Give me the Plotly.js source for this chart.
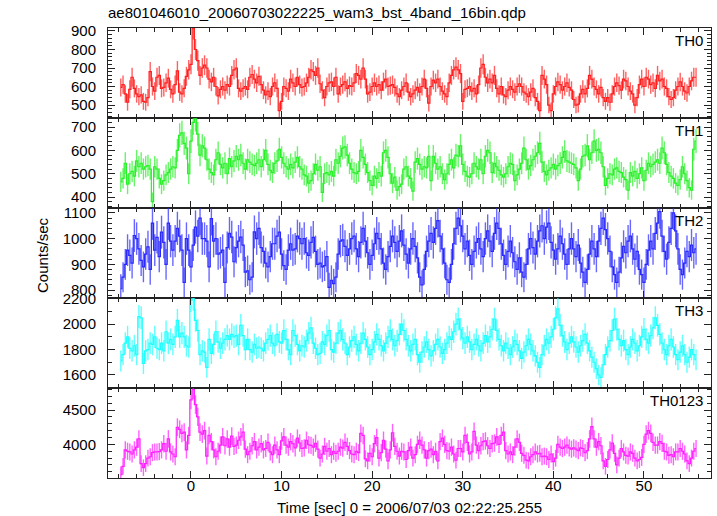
<!DOCTYPE html>
<html><head><meta charset="utf-8">
<script src="https://cdn.plot.ly/plotly-3.0.1.min.js"></script>
<style>html,body{margin:0;padding:0;background:#fff}#chart{width:717px;height:516px}</style>
</head><body><div id="chart"></div>
<script>
// time grid: bins of 0.25 s starting at -7.75 s
const T_START = -7.75;
const BIN = 0.25;
const panelNames = ["TH0", "TH1", "TH2", "TH3", "TH0123"];

const th0 = [
595,610,560,515, 585,650,590,560, 545,555,520,515, 540,680,600,575, 650,660,590,595, 620,645,585,560, 610,685,570,560, 590,655,690,
720,915,800,740, 660,700,715,700, 640,625,650,600, 550,585,600,580, 610,600,660,690, 700,590,575,590, 600,585,650,665, 640,620,655,610,
580,555,575,545, 600,620,590,470, 520,600,590,575, 640,620,600,650, 610,595,600,620, 650,690,680,660, 700,615,580,540, 600,620,625,600,
650,560,600,610, 625,590,605,600, 620,670,660,640, 700,640,560,570, 600,620,600,610, 580,625,640,600, 605,610,595,560, 545,580,600,620,
570,545,560,580, 595,570,600,640, 590,510,600,635, 620,640,600,575, 560,545,620,660, 690,705,690,670, 520,585,590,600, 575,590,560,610,
700,720,650,620, 640,620,660,590, 560,600,555,545, 580,600,585,570, 600,615,600,570, 560,545,570,590, 540,520,470,660, 640,610,500,470,
560,600,625,610, 580,600,620,595, 580,530,500,505, 560,585,560,590, 660,640,600,585, 560,595,540,520, 540,515,560,600, 620,605,580,640,
630,600,575,560, 500,540,610,640, 600,650,640,610, 620,590,660,630, 640,600,590,545, 530,540,580,600, 625,600,575,565, 600,630,650,650
];
const th1 = [
465,480,545,455, 500,510,490,555, 530,545,520,530, 535,520,380,530, 520,480,455,470, 495,505,520,530, 525,600,665,675, 630,610,500,
640,720,735,670, 580,620,610,560, 520,505,495,560, 590,540,525,545, 500,565,530,555, 575,560,580,545, 520,560,550,540, 535,545,560,530,
560,600,540,515, 505,545,555,605, 570,545,530,520, 540,525,550,570, 530,520,495,490, 460,470,500,540, 515,530,420,500, 505,495,510,490,
560,545,575,610, 615,580,545,520, 505,500,510,600, 570,540,505,470, 450,490,480,505, 490,590,600,570, 500,460,485,430, 445,455,520,530,
490,480,425,550, 565,540,520,530, 525,575,470,575, 545,520,530,500, 475,500,540,560, 525,580,575,620, 540,510,490,485, 500,545,530,520,
560,500,575,600, 590,505,545,530, 515,495,485,500, 530,545,540,470, 495,520,545,610, 560,520,535,560, 575,590,630,550, 510,495,515,525,
540,520,535,545, 570,595,555,550, 545,540,525,470, 520,575,580,620, 560,590,640,600, 605,590,530,450, 480,500,495,520, 525,510,505,485,
475,430,505,490, 510,480,500,525, 470,515,545,530, 540,550,560,545, 610,590,540,505, 490,480,460,450, 475,530,500,470, 440,430,605,640
];
const th2 = [
805,850,900,955, 935,905,1012,1000, 960,915,890,940, 968,880,1060,955, 1005,930,1025,985, 900,1060,990,955, 990,1040,1010,955, 830,1000,955,
890,975,1045,1010, 1080,1000,1000,990, 890,1078,990,1000, 940,945,955,830, 965,1020,1006,910, 965,990,1006,975, 870,875,840,850, 1026,1000,1040,965,
950,905,890,930, 980,980,1010,1025, 940,895,880,955, 980,955,960,1010, 1000,980,1000,945, 935,985,1005,950, 900,905,890,895, 930,810,838,825,
850,940,990,995, 970,935, 960,1000,
1010,960,930,985, 1040,990,945,900, 935,980,1020,1000, 960,905,880,930, 970,1010,985,950, 990,1030,975,940, 905,960,1000,970, 925,850,820,880,
950,990,1020,985, 1040,1070,1010,960, 905,840,830,900, 980,1040,1080,1050, 1010,960,990,935, 900,950,985,1000, 960,930,1000,1030, 990,950,1020,1060,
1040,980,935,900, 950,990,945,910, 880,925,870,850, 900,960,1000,965, 940,990,1030,1050, 1000,1045,1060,985, 955,920,960,1010, 980,940,900,960,
1000,960,930,975, 905,870,830,880, 940,990,960,930, 990,1040,1080,1035, 1000,950,890,860, 830,870,925,970, 945,990,1010,960, 920,950,880,860,
830,900,955,990, 960,1020,1060,1105, 1010,950,920,985, 1040,1100,1030,960, 880,860,905,950, 930,975,945,960
];
const th3 = [
1710,1760,1850,1900, 1810,1790,1830,1760, 2060,2050,1690,1790, 1800,1850,1840,1900, 1810,1800,1850,1790, 1940,1850,1880,1840, 1900,2030,1900,1930, 1900,1830,1820,
2190,2200,2030,1950, 1760,1790,1780,1660, 1880,1770,1840,1940, 1860,1810,1850,1880, 1910,1880,1920,1900, 1910,1840,1990,1910, 1800,1880,1800,1780, 1840,1810,1820,1810,
1790,1850,1880,1910, 1850,1830,1920,1860, 1850,1950,1880,1800, 1760,1950,1910,1840, 1790,1830,1820,1870, 1930,1970,1850,1810, 1760,1770,1860,1840, 1910,1950,1800,1780,
1850,1930,1950,1880, 1850,1760, 1820,1870,
1900,1840,1790,1850, 1930,1880,1820,1760, 1800,1860,1920,1880, 1830,1790,1850,1900, 1950,1880,1830,1870, 1920,2000,1950,1880, 1830,1790,1840,1880, 1760,1700,1780,1820,
1860,1800,1750,1790, 1840,1880,1820,1770, 1800,1850,1900,1880, 1940,2000,2040,1960, 1890,1850,1900,1860, 1800,1840,1880,1830, 1790,1850,1910,1860, 1900,1960,2040,1950,
1880,1830,1790,1850, 1810,1760,1820,1870, 1840,1790,1730,1780, 1830,1880,1840,1790, 1750,1700,1660,1760, 1830,1880,1850,1900, 1960,2050,2120,1990, 1910,1860,1800,1850,
1900,1860,1820,1780, 1830,1870,1920,1850, 1790,1740,1700,1650, 1600,1580,1680,1760, 1820,1870,1950,2040, 1960,1880,1830,1870, 1800,1760,1820,1880, 1850,1790,1830,1900,
1960,1880,1850,1910, 1970,2050,1990,1920, 1850,1800,1760,1830, 1880,1820,1760,1720, 1780,1830,1760,1700, 1740,1800,1760,1720
];
const th0123 = [
3560,3680,3920,3900, 3890,3860,3920,3960, 4080,3720,3660,3720, 3800,3820,3880,3890, 3890,3895,3920,4010, 3900,4080,3890,3860, 3820,4250,4220,4160, 4180,3920,4130,
4650,4800,4580,4400, 4180,4150,4200,3830, 4130,4040,3920,3820, 3900,3990,4110,3980, 4080,3960,4120,3970, 3990,4060,4110,4180, 3930,3850,3900,3980, 4040,3920,3960,4010,
3920,3940,4030,3890, 3850,3990,3920,3850, 4050,4110,3990,3960, 4040,4010,3950,4090, 4020,3940,3950,4060, 3995,3985,3960,4015, 3930,3800,3860,3970, 3900,3940,3850,3900,
3870,3900,3960,3945, 4030,3970,3910,3860, 3850,3900,3880,
4160,4130,3790,3760, 3870,3820,4010,4100, 3800,3880,4060,3930, 3760,3920,4170,3970, 3900,3830,3900,3890, 3780,3910,3960,3800, 3850,4000,4060,3990, 3920,3800,3910,3930,
3850,3900,3760,4040, 4090,4000,3910,3900, 3960,3860,3770,3940, 3940,3890,4130,4030, 3860,3890,4190,3990, 3910,3980,4040,4050, 3980,3940,4010,4020, 4110,4000,4130,4180,
3910,3860,3890,3850, 3960,4080,4030,3870, 3840,3770,3760,3820, 3850,3890,3860,3870, 3820,3830,3820,3780, 3860,3750,3800,4000, 3960,3940,3960,3990, 3950,3930,3950,3930,
3910,3950,3940,3880, 3910,4080,4260,4080, 3960,4040,3980,3760, 3680,3780,3920,4020, 3870,3700,3800,3940, 3890,3840,3830,3890, 3870,3800,3760,3780, 3810,4000,4150,4200,
4160,4030,3990,3990, 4040,4015,3900,3890, 3840,3850,3820,3890, 3890,3940,3900,3860, 3760,3720,3800,3900, 3940
];

const series = [th0, th1, th2, th3, th0123];
const lineColors = ["rgb(255,30,30)", "rgb(40,240,40)", "rgb(40,40,255)", "rgb(30,255,255)", "rgb(255,30,255)"];
const errColors  = ["rgba(255,30,30,0.7)", "rgba(40,240,40,0.7)", "rgba(40,40,255,0.7)", "rgba(30,255,255,0.7)", "rgba(255,30,255,0.7)"];
const yRanges = [[430, 916], [353, 739], [769, 1119], [1497, 2206], [3510, 4822]];
const yDticks = [100, 100, 100, 200, 500];
const yMinor  = [20, 20, 20, 100, 100];
const xRange = [-9.16, 57.4];

const FONT = "Liberation Sans, Arial, Helvetica, sans-serif";
const AX = "#222";
const traces = [];
const layout = {
  width: 717, height: 516,
  margin: {l: 108, r: 6, t: 28, b: 38},
  paper_bgcolor: "#fff", plot_bgcolor: "#fff",
  font: {family: FONT, size: 15, color: "#000"},
  showlegend: false,
  title: {text: "ae801046010_20060703022225_wam3_bst_4band_16bin.qdp", xref: "paper", x: 0, xanchor: "left",
          yref: "container", y: 1 - 13/516, yanchor: "middle", font: {family: FONT, size: 15, color: "#000"}},
  annotations: []
};
const n = series.length;
const h = 1 / n;
series.forEach((vals, i) => {
  const sfx = i ? String(i + 1) : "";
  const t = vals.map((_, j) => T_START + j * BIN);
  const err = vals.map(v => Math.sqrt(v * BIN) / BIN);
  traces.push({
    x: t, y: vals, type: "scatter", mode: "lines",
    line: {shape: "hvh", color: lineColors[i], width: 1.2},
    error_y: {type: "data", array: err, visible: true, color: errColors[i], thickness: 1.4, width: 0},
    xaxis: "x" + sfx, yaxis: "y" + sfx, hoverinfo: "skip"
  });
  const top = 1 - i * h, bot = 1 - (i + 1) * h;
  layout["xaxis" + sfx] = {
    domain: [0, 1], range: xRange, anchor: "y" + sfx,
    showline: true, linecolor: AX, linewidth: 1, mirror: "ticks",
    ticks: "inside", ticklen: 7, tickwidth: 1, tickcolor: AX,
    tick0: 0, dtick: 10, showgrid: false, zeroline: false,
    showticklabels: i === n - 1, ticklabelstandoff: -6,
    tickfont: {family: FONT, size: 15, color: "#000"},
    minor: {ticks: "inside", ticklen: 4, tickcolor: AX, tick0: 0, dtick: 2, showgrid: false}
  };
  layout["yaxis" + sfx] = {
    domain: [bot, top], range: yRanges[i], anchor: "x" + sfx,
    showline: true, linecolor: AX, linewidth: 1, mirror: "ticks",
    ticks: "inside", ticklen: 7, tickwidth: 1, tickcolor: AX,
    tick0: 0, dtick: yDticks[i], showgrid: false, zeroline: false,
    ticklabelstandoff: 8,
    tickfont: {family: FONT, size: 15, color: "#000"},
    minor: {ticks: "inside", ticklen: 4, tickcolor: AX, tick0: 0, dtick: yMinor[i], showgrid: false}
  };
  layout.annotations.push({
    text: panelNames[i], xref: "paper", yref: "paper", x: 0.9905, y: top,
    xanchor: "right", yanchor: "top", yshift: -2, showarrow: false,
    font: {family: FONT, size: 15, color: "#000"}
  });
});
layout.annotations.push({
  text: "Counts/sec", xref: "paper", yref: "paper", x: (42 - 108) / 603, y: 1 - (255 - 28) / 450,
  textangle: -90, xanchor: "center", yanchor: "middle", showarrow: false,
  font: {family: FONT, size: 15, color: "#000"}
});
layout.annotations.push({
  text: "Time [sec] 0 = 2006/07/03 02:22:25.255", xref: "paper", yref: "paper", x: 0.5, y: -(507 - 478) / 450,
  xanchor: "center", yanchor: "middle", showarrow: false,
  font: {family: FONT, size: 15, color: "#000"}
});
Plotly.newPlot("chart", traces, layout, {staticPlot: true, displayModeBar: false});
</script>
</body></html>
